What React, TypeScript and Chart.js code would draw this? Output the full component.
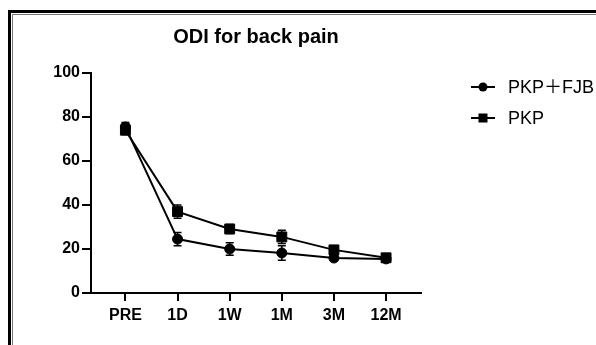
import React, { useEffect, useRef } from 'react';
import { Chart, registerables } from 'chart.js';

Chart.register(...registerables);

const titleText = 'ODI for back pain';
const categories = ['PRE', '1D', '1W', '1M', '3M', '12M'];
const yTickValues = [0, 20, 40, 60, 80, 100];
const seriesNames = ['PKP\uFF0BFJB', 'PKP'];
const pkpFjbMean = [75.5, 24.5, 20.0, 18.2, 15.9, 15.5];
const pkpFjbErr = [2.0, 3.0, 2.8, 3.3, 1.5, 1.5];
const pkpMean = [74.0, 37.0, 29.1, 25.5, 19.6, 16.0];
const pkpErr = [2.0, 3.0, 2.0, 3.0, 1.5, 1.5];

const FONT = '"Liberation Sans", Arial, "Noto Sans CJK SC", sans-serif';

const errorBarPlugin = {
  id: 'errorBars',
  beforeDatasetsDraw(chart: any) {
    const { ctx } = chart;
    const yScale = chart.scales.y;
    chart.data.datasets.forEach((ds: any, i: number) => {
      const meta = chart.getDatasetMeta(i);
      const errs: number[] = ds.errors || [];
      meta.data.forEach((pt: any, j: number) => {
        const v = ds.data[j].y;
        const e = errs[j] || 0;
        const yHi = yScale.getPixelForValue(v + e);
        const yLo = yScale.getPixelForValue(v - e);
        const x = pt.x;
        ctx.save();
        ctx.strokeStyle = '#000';
        ctx.lineWidth = 1.5;
        ctx.beginPath();
        ctx.moveTo(x, yHi);
        ctx.lineTo(x, yLo);
        ctx.moveTo(x - 4, yHi);
        ctx.lineTo(x + 4, yHi);
        ctx.moveTo(x - 4, yLo);
        ctx.lineTo(x + 4, yLo);
        ctx.stroke();
        ctx.restore();
      });
    });
  },
};

const titleLegendPlugin = {
  id: 'titleLegend',
  afterDraw(chart: any) {
    const { ctx, chartArea } = chart;
    ctx.save();
    ctx.fillStyle = '#000';
    ctx.font = `bold 20px ${FONT}`;
    ctx.textAlign = 'center';
    ctx.textBaseline = 'middle';
    ctx.fillText(titleText, (chartArea.left + chartArea.right) / 2, 37);

    const rows = [87, 118];
    chart.data.datasets.forEach((ds: any, i: number) => {
      const y = rows[i];
      const x0 = 471;
      const x1 = 495;
      const cx = (x0 + x1) / 2;
      ctx.strokeStyle = '#000';
      ctx.lineWidth = 2;
      ctx.beginPath();
      ctx.moveTo(x0, y);
      ctx.lineTo(x1, y);
      ctx.stroke();
      ctx.fillStyle = '#000';
      ctx.beginPath();
      if (ds.pointStyle === 'rect') {
        ctx.rect(cx - 4.5, y - 4.5, 9, 9);
      } else {
        ctx.arc(cx, y, 4.5, 0, Math.PI * 2);
      }
      ctx.fill();
      ctx.font = `18px ${FONT}`;
      ctx.textAlign = 'left';
      ctx.textBaseline = 'middle';
      ctx.fillText(ds.label, 508, y + 1);
    });
    ctx.restore();
  },
};

export default function App() {
  const canvasRef = useRef<HTMLCanvasElement | null>(null);

  useEffect(() => {
    if (!canvasRef.current) return;
    const makeData = (vals: number[]) => vals.map((v, i) => ({ x: i, y: v }));
    const chart = new Chart(canvasRef.current, {
      type: 'line',
      data: {
        datasets: [
          {
            label: seriesNames[0],
            data: makeData(pkpFjbMean),
            errors: pkpFjbErr,
            borderColor: '#000',
            backgroundColor: '#000',
            borderWidth: 2,
            pointStyle: 'circle',
            pointRadius: 5,
            pointBorderWidth: 1,
            pointBackgroundColor: '#000',
            pointBorderColor: '#000',
            tension: 0,
          } as any,
          {
            label: seriesNames[1],
            data: makeData(pkpMean),
            errors: pkpErr,
            borderColor: '#000',
            backgroundColor: '#000',
            borderWidth: 2,
            pointStyle: 'rect',
            pointRadius: 7,
            pointBorderWidth: 1,
            pointBackgroundColor: '#000',
            pointBorderColor: '#000',
            tension: 0,
          } as any,
        ],
      },
      options: {
        animation: false,
        responsive: false,
        maintainAspectRatio: false,
        layout: { padding: { left: 0, top: 73, right: 175, bottom: 0 } },
        plugins: {
          legend: { display: false },
          title: { display: false },
          tooltip: { enabled: false },
        },
        scales: {
          x: {
            type: 'linear',
            min: -0.66,
            max: 5.67,
            afterBuildTicks: (s: any) => {
              s.ticks = categories.map((_, i) => ({ value: i }));
            },
            afterFit: (s: any) => {
              s.height = 52;
            },
            ticks: {
              color: '#000',
              font: { family: FONT, size: 16, weight: 'bold' },
              padding: 5,
              autoSkip: false,
              maxRotation: 0,
              callback: (v: any) => categories[Math.round(v)] ?? '',
            },
            grid: {
              drawOnChartArea: false,
              drawTicks: true,
              tickLength: 8,
              tickColor: '#000',
              tickWidth: 2,
              color: '#000',
              lineWidth: 2,
            },
            border: { display: true, color: '#000', width: 2 },
          },
          y: {
            type: 'linear',
            min: 0,
            max: 100,
            afterBuildTicks: (s: any) => {
              s.ticks = yTickValues.map((v) => ({ value: v }));
            },
            afterFit: (s: any) => {
              s.width = 91;
            },
            ticks: {
              color: '#000',
              font: { family: FONT, size: 16, weight: 'bold' },
              padding: 2,
            },
            grid: {
              drawOnChartArea: false,
              drawTicks: true,
              tickLength: 9,
              tickColor: '#000',
              tickWidth: 2,
              color: '#000',
              lineWidth: 2,
            },
            border: { display: true, color: '#000', width: 2 },
          },
        },
      } as any,
      plugins: [errorBarPlugin, titleLegendPlugin],
    });
    return () => chart.destroy();
  }, []);

  return (
    <div style={{ position: 'fixed', left: 0, top: 0, width: 596, height: 345, background: '#fff', overflow: 'hidden' }}>
      <div
        style={{
          position: 'absolute',
          left: 8,
          top: 10,
          right: 0,
          bottom: 0,
          borderLeft: '3px solid #000',
          borderTop: '3px solid #000',
        }}
      />
      <div
        style={{
          position: 'absolute',
          left: 12,
          top: 14,
          right: 0,
          bottom: 0,
          borderLeft: '1px solid #777',
          borderTop: '1px solid #777',
        }}
      />
      <canvas
        ref={canvasRef}
        width={596}
        height={345}
        style={{ position: 'absolute', left: 0, top: 0, width: 596, height: 345 }}
      />
    </div>
  );
}
